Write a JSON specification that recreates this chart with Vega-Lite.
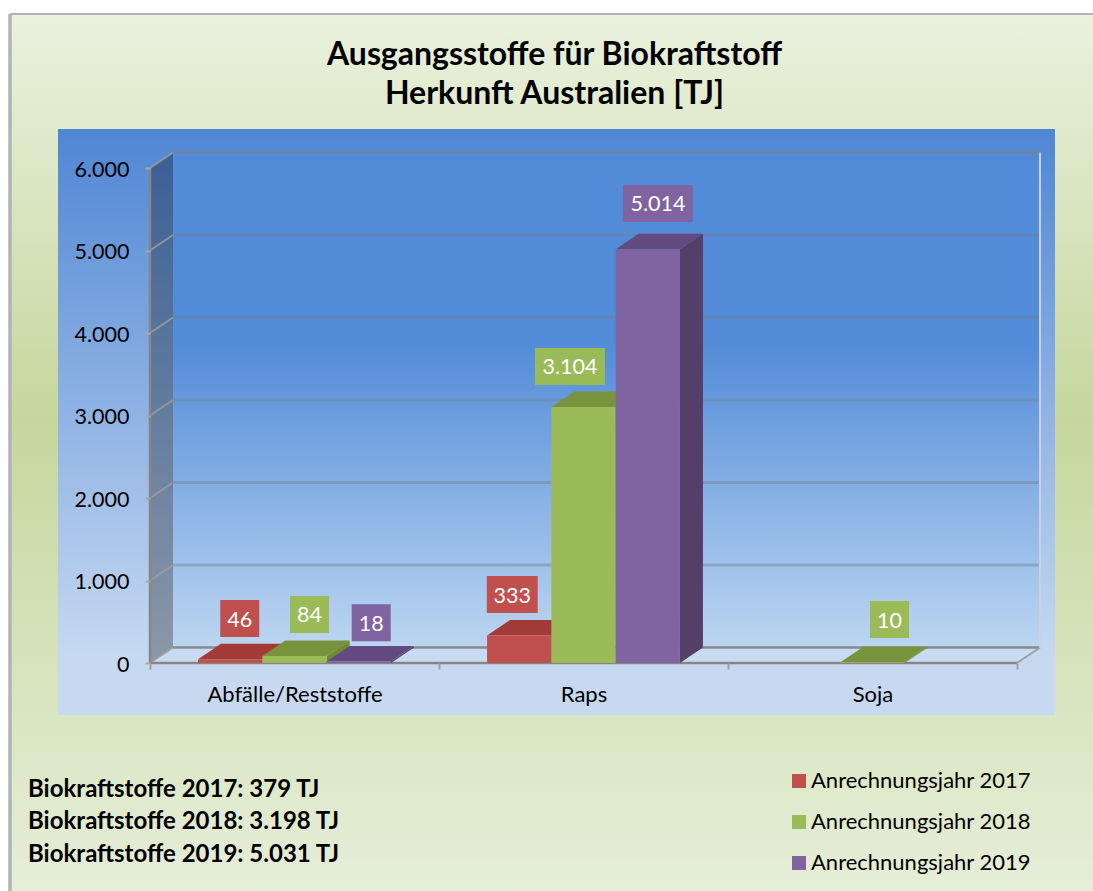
{
"$schema":"https://vega.github.io/schema/vega-lite/v6.json",
"width":1083,"height":877,
"autosize":{"type":"none"},
"padding":{"left":10,"top":14,"right":0,"bottom":0},
"background":"white",
"config":{"font":"Lato","view":{"fill":{"x1":0,"y1":0,"x2":0,"y2":1,"gradient":"linear","stops":[{"offset":0,"color":"#ebf1de"},{"offset":0.46,"color":"#c5d79e"},{"offset":1,"color":"#e6eed8"}]},"stroke":null}},
"title":{"text":["Ausgangsstoffe für Biokraftstoff","Herkunft Australien [TJ]"],"font":"Lato","fontSize":32,"fontWeight":700,"color":"#000000","lineHeight":39,"anchor":"middle","offset":-99,"dx":3},
"datasets":{
"bars":[
{"cat":"Abfälle/Reststoffe","year":2017,"value":46},
{"cat":"Abfälle/Reststoffe","year":2018,"value":84},
{"cat":"Abfälle/Reststoffe","year":2019,"value":18},
{"cat":"Raps","year":2017,"value":333},
{"cat":"Raps","year":2018,"value":3104},
{"cat":"Raps","year":2019,"value":5014},
{"cat":"Soja","year":2018,"value":10}
],
"ticks":[{"tick":0},{"tick":1000},{"tick":2000},{"tick":3000},{"tick":4000},{"tick":5000},{"tick":6000}],
"totals":[
{"year":2017,"label":"Biokraftstoffe 2017: 379 TJ"},
{"year":2018,"label":"Biokraftstoffe 2018: 3.198 TJ"},
{"year":2019,"label":"Biokraftstoffe 2019: 5.031 TJ"}
],
"one":[{"id":1}]
},
"data":{"name":"bars"},
"transform":[
{"calculate":"indexof(['Abfälle/Reststoffe','Raps','Soja'],datum.cat)+0.5+(datum.year-2018.5)*0.2225","as":"x0"},
{"calculate":"datum.x0+0.2225","as":"x1"}
],
"layer":[
{"data":{"name":"one"},"transform":[],"mark":{"type":"rect","fill":{"x1":0,"y1":0,"x2":0,"y2":1,"gradient":"linear","stops":[{"offset":0,"color":"#4f86d4"},{"offset":0.9,"color":"#c6d9f1"},{"offset":1,"color":"#c6d9f1"}]}},
"encoding":{
"x":{"datum":-0.3183,"type":"quantitative","scale":{"domain":[-0.4844,3.263],"nice":false,"zero":false},
"axis":{"values":[0,0.5,1,1.5,2,2.5,3],"title":null,"orient":"bottom","offset":-228,"domain":false,"grid":false,"zindex":1,"tickSize":6,"tickWidth":2,"tickColor":"#a0a0a0","tickOpacity":{"condition":{"test":"datum.value % 1 == 0","value":1},"value":0},"labelExpr":"datum.value==0.5?'Abfälle/Reststoffe':datum.value==1.5?'Raps':datum.value==2.5?'Soja':''","labelFont":"Lato","labelFontSize":22,"labelColor":"#000000","labelPadding":15,"labelOverlap":false,"labelFlush":false,"labelLimit":400}},
"x2":{"datum":3.1315},
"y":{"datum":6473,"type":"quantitative","scale":{"domain":[-2763.6,7866.7],"nice":false,"zero":false},
"axis":{"values":[0,1000,2000,3000,4000,5000,6000],"title":null,"orient":"left","offset":-140,"domain":false,"grid":false,"zindex":1,"tickSize":5,"tickWidth":2,"tickColor":"#a8a8a8","labelExpr":"replace(format(datum.value,','),',','.')","labelFont":"Lato","labelFontSize":21.5,"labelColor":"#000000","labelPadding":16,"labelOffset":2,"labelOverlap":false,"labelFlush":false}},
"y2":{"datum":-630}
}},
{"data":{"name":"one"},"transform":[],"mark":{"type":"rule","color":"#b3b3b3","strokeWidth":3.5},
"encoding":{"x":{"datum":-0.4844,"type":"quantitative"}}},
{"data":{"name":"one"},"transform":[],"mark":{"type":"rule","color":"#b3b3b3","strokeWidth":2},
"encoding":{"y":{"datum":7866.7,"type":"quantitative"}}},
{"data":{"name":"one"},"transform":[],"mark":{"type":"rect","fill":{"x1":0,"y1":0,"x2":0,"y2":1,"gradient":"linear","stops":[{"offset":0,"color":"#528bd8"},{"offset":0.38,"color":"#528bd8"},{"offset":1,"color":"#bcd6f1"}]}},
"encoding":{"x":{"datum":0.0796,"type":"quantitative"},"x2":{"datum":3.0796},"y":{"datum":6188,"type":"quantitative"},"y2":{"datum":188}}},
{"data":{"values":[{"k":0},{"k":1}]},"transform":[{"calculate":"datum.k*0.0796","as":"px"},{"calculate":"datum.k*188","as":"py"},{"calculate":"6000+datum.k*188","as":"py2"}],
"mark":{"type":"area","color":"#000000","opacity":0.3},
"encoding":{"x":{"field":"px","type":"quantitative"},"y":{"field":"py","type":"quantitative","stack":null},"y2":{"field":"py2"}}},
{"data":{"values":[{"k":0},{"k":1}]},"transform":[{"calculate":"datum.k*188","as":"py"},{"calculate":"datum.k*0.0796","as":"px"},{"calculate":"3+datum.k*0.0796","as":"px2"}],
"mark":{"type":"area","orient":"horizontal","color":"#c9dbf2"},
"encoding":{"y":{"field":"py","type":"quantitative"},"x":{"field":"px","type":"quantitative","stack":null},"x2":{"field":"px2"}}},
{"data":{"name":"ticks"},"transform":[{"filter":"datum.tick<6000"},{"calculate":"datum.tick+188","as":"by"}],
"mark":{"type":"rule","color":"#7a7f8c","opacity":0.42,"strokeWidth":3},
"encoding":{"x":{"datum":0.0796,"type":"quantitative"},"x2":{"datum":3.0796},"y":{"field":"by","type":"quantitative"}}},
{"data":{"name":"ticks"},"transform":[{"filter":"datum.tick==6000||datum.tick==0"},{"calculate":"datum.tick+188","as":"by"}],
"mark":{"type":"rule","color":"#808080","opacity":0.8,"strokeWidth":2},
"encoding":{"x":{"datum":0.0796,"type":"quantitative"},"x2":{"datum":3.0796},"y":{"field":"by","type":"quantitative"}}},
{"data":{"name":"ticks"},"transform":[{"calculate":"datum.tick+188","as":"by"}],
"mark":{"type":"rule","color":"#9c9c9c","strokeWidth":2,"opacity":0.85},
"encoding":{"x":{"datum":0,"type":"quantitative"},"x2":{"datum":0.0796},"y":{"field":"tick","type":"quantitative"},"y2":{"field":"by"}}},
{"data":{"name":"one"},"transform":[],"mark":{"type":"rule","color":"#868686","strokeWidth":2.5},
"encoding":{"x":{"datum":0,"type":"quantitative"},"y":{"datum":0,"type":"quantitative"},"y2":{"datum":6000}}},
{"data":{"name":"one"},"transform":[],"mark":{"type":"rule","color":"#868686","strokeWidth":2.5},
"encoding":{"x":{"datum":0,"type":"quantitative"},"x2":{"datum":3},"y":{"datum":0,"type":"quantitative"}}},
{"data":{"name":"one"},"transform":[],"mark":{"type":"rule","color":"#a0a0a0","strokeWidth":2},
"encoding":{"x":{"datum":3,"type":"quantitative"},"x2":{"datum":3.0796},"y":{"datum":0,"type":"quantitative"},"y2":{"datum":188}}},
{"data":{"name":"one"},"transform":[],"mark":{"type":"rule","color":"#c8d3e2","strokeWidth":2},
"encoding":{"x":{"datum":3.0796,"type":"quantitative"},"y":{"datum":188,"type":"quantitative"},"y2":{"datum":6188}}},
{"transform":[{"calculate":"[0,1]","as":"k"},{"flatten":["k"]},{"calculate":"datum.x1+datum.k*0.0796","as":"sx"},{"calculate":"datum.k*188","as":"sy"},{"calculate":"datum.value+datum.k*188","as":"sy2"}],
"mark":{"type":"area","orient":"vertical"},
"encoding":{"x":{"field":"sx","type":"quantitative"},"y":{"field":"sy","type":"quantitative","stack":null},"y2":{"field":"sy2"},"detail":{"field":"x0","type":"nominal"},
"color":{"field":"year","type":"nominal","legend":null,"scale":{"domain":[2017,2018,2019],"range":["#8e3a38","#6e8a36","#533f68"]}}}},
{"transform":[{"calculate":"[0,1]","as":"k"},{"flatten":["k"]},{"calculate":"datum.x0+datum.k*0.0796","as":"tx"},{"calculate":"datum.x1+datum.k*0.0796","as":"tx2"},{"calculate":"datum.value+datum.k*188","as":"ty"}],
"mark":{"type":"area","orient":"horizontal"},
"encoding":{"y":{"field":"ty","type":"quantitative"},"x":{"field":"tx","type":"quantitative","stack":null},"x2":{"field":"tx2"},"detail":{"field":"x0","type":"nominal"},
"color":{"field":"year","type":"nominal","legend":null,"scale":{"domain":[2017,2018,2019],"range":["#a23b38","#77933c","#634b82"]}}}},
{"mark":{"type":"rect"},
"encoding":{"x":{"field":"x0","type":"quantitative"},"x2":{"field":"x1"},"y":{"field":"value","type":"quantitative"},"y2":{"datum":0},
"color":{"field":"year","type":"nominal","scale":{"domain":[2017,2018,2019],"range":["#c0504d","#9bbb59","#8064a2"]},
"legend":{"title":null,"orient":"none","legendX":778,"legendY":756,"padding":0,"symbolType":"square","symbolSize":196,"symbolStrokeWidth":0,"symbolOpacity":1,"labelFont":"Lato","labelFontSize":22,"labelColor":"#000000","labelOffset":1,"labelLimit":300,"rowPadding":19,"labelExpr":"'Anrechnungsjahr '+datum.label"}}}},
{"transform":[
{"calculate":"({'46':0.033,'84':0.052,'18':0.043,'333':-0.024,'3104':-0.047,'5014':0.035,'10':0.059})[datum.value]+(datum.x0+datum.x1)/2","as":"lx"},
{"calculate":"({'46':493,'84':504,'18':470,'333':497,'3104':490,'5014':556,'10':517})[datum.value]+datum.value","as":"ly"},
{"calculate":"datum.value>=1000?0.121:datum.value>=100?0.088:0.0675","as":"hw"},
{"calculate":"datum.lx-datum.hw","as":"bx"},{"calculate":"datum.lx+datum.hw","as":"bx2"},
{"calculate":"datum.ly-224","as":"by"},{"calculate":"datum.ly+224","as":"by2"}],
"layer":[
{"mark":{"type":"rect"},
"encoding":{"x":{"field":"bx","type":"quantitative"},"x2":{"field":"bx2"},"y":{"field":"by","type":"quantitative"},"y2":{"field":"by2"},
"color":{"field":"year","type":"nominal","legend":null,"scale":{"domain":[2017,2018,2019],"range":["#c0504d","#9bbb59","#8064a2"]}}}},
{"transform":[{"calculate":"replace(format(datum.value,','),',','.')","as":"txt"}],
"mark":{"type":"text","color":"#ffffff","font":"Lato","fontSize":21.5,"baseline":"middle","align":"center","dy":2},
"encoding":{"x":{"field":"lx","type":"quantitative"},"y":{"field":"ly","type":"quantitative"},"text":{"field":"txt"}}}
]},
{"data":{"name":"totals"},"transform":[{"calculate":"-1515-(datum.year-2017)*394","as":"ty"}],
"mark":{"type":"text","align":"left","baseline":"middle","font":"Lato","fontWeight":700,"fontSize":24,"color":"#000000","dy":2},
"encoding":{"x":{"datum":-0.422,"type":"quantitative"},"y":{"field":"ty","type":"quantitative"},"text":{"field":"label"}}}
],
"resolve":{"scale":{"color":"independent"}}
}
